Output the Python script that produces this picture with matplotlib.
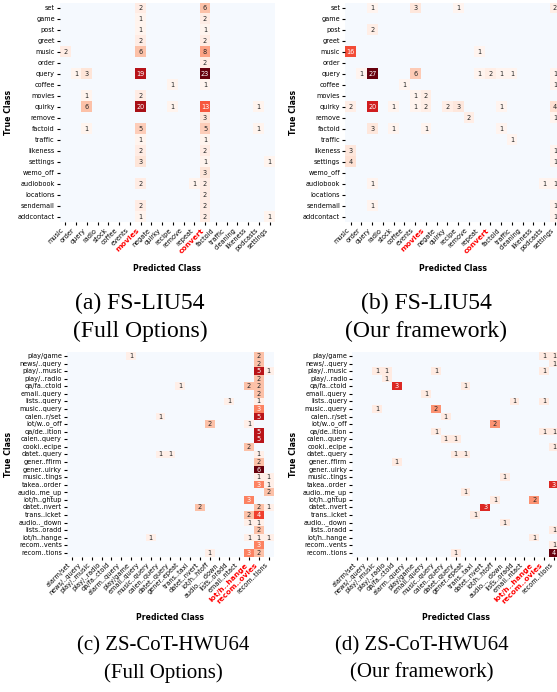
import matplotlib.pyplot as plt
import numpy as np
import seaborn as sns

# ---- FS-LIU54 (panels a, b) ----
liu_rows = ['set', 'game', 'post', 'greet', 'music', 'order', 'query', 'coffee', 'movies', 'quirky',
            'remove', 'factoid', 'traffic', 'likeness', 'settings', 'wemo_off', 'audiobook',
            'locations', 'sendemail', 'addcontact']
liu_cols = ['music', 'order', 'query', 'radio', 'stock', 'coffee', 'events', 'movies', 'negate',
            'quirky', 'recipe', 'remove', 'repeat', 'convert', 'factoid', 'traffic', 'cleaning',
            'likeness', 'podcasts', 'settings']
liu_red = ['movies', 'convert']

# (true class, predicted class, count)
liu_full = [
    ('set', 'movies', 2), ('set', 'convert', 6),
    ('game', 'movies', 1), ('game', 'convert', 2),
    ('post', 'movies', 1), ('post', 'convert', 1),
    ('greet', 'movies', 2), ('greet', 'convert', 2),
    ('music', 'music', 2), ('music', 'movies', 6), ('music', 'convert', 8),
    ('order', 'convert', 2),
    ('query', 'order', 1), ('query', 'query', 3), ('query', 'movies', 19), ('query', 'convert', 23),
    ('coffee', 'recipe', 1), ('coffee', 'convert', 1),
    ('movies', 'query', 1), ('movies', 'movies', 2),
    ('quirky', 'query', 6), ('quirky', 'movies', 20), ('quirky', 'recipe', 1),
    ('quirky', 'convert', 13), ('quirky', 'podcasts', 1),
    ('remove', 'convert', 3),
    ('factoid', 'query', 1), ('factoid', 'movies', 5), ('factoid', 'convert', 5),
    ('factoid', 'podcasts', 1),
    ('traffic', 'movies', 1), ('traffic', 'convert', 1),
    ('likeness', 'movies', 2), ('likeness', 'convert', 2),
    ('settings', 'movies', 3), ('settings', 'convert', 1), ('settings', 'settings', 1),
    ('wemo_off', 'convert', 3),
    ('audiobook', 'movies', 2), ('audiobook', 'repeat', 1), ('audiobook', 'convert', 2),
    ('locations', 'convert', 2),
    ('sendemail', 'movies', 2), ('sendemail', 'convert', 2),
    ('addcontact', 'movies', 1), ('addcontact', 'convert', 2), ('addcontact', 'settings', 1),
]

liu_ours = [
    ('set', 'query', 1), ('set', 'events', 3), ('set', 'recipe', 1), ('set', 'settings', 2),
    ('post', 'query', 2),
    ('music', 'music', 16), ('music', 'repeat', 1),
    ('query', 'order', 1), ('query', 'query', 27), ('query', 'events', 6), ('query', 'repeat', 1),
    ('query', 'convert', 2), ('query', 'factoid', 1), ('query', 'traffic', 1),
    ('query', 'settings', 1),
    ('coffee', 'coffee', 1), ('coffee', 'settings', 1),
    ('movies', 'events', 1), ('movies', 'movies', 2),
    ('quirky', 'music', 2), ('quirky', 'query', 20), ('quirky', 'stock', 1), ('quirky', 'events', 1),
    ('quirky', 'movies', 2), ('quirky', 'quirky', 2), ('quirky', 'recipe', 3),
    ('quirky', 'factoid', 1), ('quirky', 'settings', 4),
    ('remove', 'remove', 2), ('remove', 'settings', 1),
    ('factoid', 'query', 3), ('factoid', 'stock', 1), ('factoid', 'movies', 1),
    ('factoid', 'factoid', 1),
    ('traffic', 'traffic', 1),
    ('likeness', 'music', 3), ('likeness', 'settings', 1),
    ('settings', 'music', 4), ('settings', 'settings', 1),
    ('audiobook', 'query', 1), ('audiobook', 'podcasts', 1), ('audiobook', 'settings', 1),
    ('sendemail', 'query', 1), ('sendemail', 'settings', 1),
    ('addcontact', 'settings', 1),
]

# ---- ZS-CoT-HWU64 (panels c, d) ----
hwu_rows = ['play/game', 'news/..query', 'play/..music', 'play/..radio', 'qa/fa..ctoid',
            'email..query', 'lists..query', 'music..query', 'calen..r/set', 'iot/w..o_off',
            'qa/de..ition', 'calen..query', 'cooki..ecipe', 'datet..query', 'gener..ffirm',
            'gener..uirky', 'music..tings', 'takea..order', 'audio..me_up', 'iot/h..ghtup',
            'datet..nvert', 'trans..icket', 'audio.._down', 'lists..oradd', 'iot/h..hange',
            'recom..vents', 'recom..tions']
hwu_cols = ['alarm/set', 'news/..query', 'play/..music', 'play/..radio', 'qa/fa..ctoid',
            'alarm..query', 'play/game', 'email..query', 'music..query', 'calen..query',
            'datet..query', 'gener..epeat', 'trans..taxi', 'datet..nvert', 'iot/h..htoff',
            'audio..._down', 'lists..oradd', 'email..ntact', 'iot/h..hange', 'recom..ovies',
            'recom..tions']
hwu_red = ['iot/h..hange', 'recom..ovies']

hwu_full = [
    ('play/game', 'play/game', 1), ('play/game', 'recom..ovies', 2),
    ('news/..query', 'recom..ovies', 2),
    ('play/..music', 'recom..ovies', 5), ('play/..music', 'recom..tions', 1),
    ('play/..radio', 'recom..ovies', 2),
    ('qa/fa..ctoid', 'gener..epeat', 1), ('qa/fa..ctoid', 'iot/h..hange', 2),
    ('qa/fa..ctoid', 'recom..ovies', 2),
    ('email..query', 'recom..ovies', 2),
    ('lists..query', 'lists..oradd', 1), ('lists..query', 'recom..ovies', 1),
    ('music..query', 'recom..ovies', 3),
    ('calen..r/set', 'calen..query', 1), ('calen..r/set', 'recom..ovies', 5),
    ('iot/w..o_off', 'iot/h..htoff', 2), ('iot/w..o_off', 'iot/h..hange', 1),
    ('qa/de..ition', 'recom..ovies', 5),
    ('calen..query', 'recom..ovies', 5),
    ('cooki..ecipe', 'iot/h..hange', 2),
    ('datet..query', 'calen..query', 1), ('datet..query', 'datet..query', 1),
    ('datet..query', 'recom..ovies', 1),
    ('gener..ffirm', 'recom..ovies', 2),
    ('gener..uirky', 'recom..ovies', 6),
    ('music..tings', 'recom..ovies', 1), ('music..tings', 'recom..tions', 1),
    ('takea..order', 'recom..ovies', 3), ('takea..order', 'recom..tions', 1),
    ('audio..me_up', 'recom..tions', 2),
    ('iot/h..ghtup', 'iot/h..hange', 3),
    ('datet..nvert', 'datet..nvert', 2), ('datet..nvert', 'recom..ovies', 2),
    ('datet..nvert', 'recom..tions', 1),
    ('trans..icket', 'iot/h..hange', 2), ('trans..icket', 'recom..ovies', 4),
    ('audio.._down', 'iot/h..hange', 1), ('audio.._down', 'recom..ovies', 1),
    ('lists..oradd', 'recom..ovies', 2),
    ('iot/h..hange', 'music..query', 1), ('iot/h..hange', 'iot/h..hange', 1),
    ('iot/h..hange', 'recom..ovies', 1), ('iot/h..hange', 'recom..tions', 1),
    ('recom..vents', 'recom..ovies', 3),
    ('recom..tions', 'iot/h..htoff', 1), ('recom..tions', 'iot/h..hange', 3),
    ('recom..tions', 'recom..ovies', 2),
]

hwu_ours = [
    ('play/game', 'recom..ovies', 1), ('play/game', 'recom..tions', 1),
    ('news/..query', 'recom..tions', 1),
    ('play/..music', 'play/..music', 1), ('play/..music', 'play/..radio', 1),
    ('play/..music', 'music..query', 1), ('play/..music', 'recom..ovies', 1),
    ('play/..radio', 'play/..radio', 1),
    ('qa/fa..ctoid', 'qa/fa..ctoid', 3), ('qa/fa..ctoid', 'gener..epeat', 1),
    ('email..query', 'email..query', 1),
    ('lists..query', 'lists..oradd', 1), ('lists..query', 'recom..ovies', 1),
    ('music..query', 'play/..music', 1), ('music..query', 'music..query', 2),
    ('calen..r/set', 'calen..query', 1),
    ('iot/w..o_off', 'iot/h..htoff', 2),
    ('qa/de..ition', 'music..query', 1), ('qa/de..ition', 'recom..ovies', 1),
    ('qa/de..ition', 'recom..tions', 1),
    ('calen..query', 'calen..query', 1), ('calen..query', 'datet..query', 1),
    ('cooki..ecipe', 'recom..tions', 1),
    ('datet..query', 'datet..query', 1), ('datet..query', 'gener..epeat', 1),
    ('gener..ffirm', 'qa/fa..ctoid', 1),
    ('music..tings', 'audio..._down', 1),
    ('takea..order', 'recom..tions', 3),
    ('audio..me_up', 'gener..epeat', 1),
    ('iot/h..ghtup', 'iot/h..htoff', 1), ('iot/h..ghtup', 'iot/h..hange', 2),
    ('datet..nvert', 'datet..nvert', 3),
    ('trans..icket', 'trans..taxi', 1),
    ('audio.._down', 'audio..._down', 1),
    ('lists..oradd', 'recom..tions', 1),
    ('iot/h..hange', 'iot/h..hange', 1),
    ('recom..vents', 'recom..tions', 1),
    ('recom..tions', 'datet..query', 1), ('recom..tions', 'recom..tions', 4),
]

W, H = 557, 692
fig = plt.figure(figsize=(W / 100, H / 100), dpi=100)


def px_box(x0, y0, x1, y1):
    return [x0 / W, 1 - y1 / H, (x1 - x0) / W, (y1 - y0) / H]


def draw(box, counts, rows, cols, red, ylab_x, xlab_y):
    ax = fig.add_axes(px_box(*box))
    mat = np.zeros((len(rows), len(cols)))
    for t, p, n in counts:
        mat[rows.index(t), cols.index(p)] += n
    sns.heatmap(mat, ax=ax, mask=(mat == 0), cmap='Reds', vmin=0.8, vmax=mat.max(),
                annot=True, fmt='.0f', cbar=False, annot_kws={'fontsize': 4.7},
                xticklabels=cols, yticklabels=rows)
    ax.set_facecolor('#f5f9fe')
    ax.set_yticklabels(rows, rotation=0, fontsize=4.7)
    ax.set_xticklabels(cols, rotation=45, ha='right', fontsize=4.7)
    for lab in ax.get_xticklabels():
        if lab.get_text() in red:
            lab.set_color('red')
            lab.set_fontweight('bold')
            lab.set_fontsize(5.4)
    ax.tick_params(length=2.2, width=0.8, pad=1.5)
    ax.set_ylabel('True Class', fontsize=5.6, fontweight='bold')
    ax.set_xlabel('Predicted Class', fontsize=5.6, fontweight='bold')
    ax.yaxis.set_label_coords(ylab_x, 0.5)
    ax.xaxis.set_label_coords(0.5, xlab_y)
    return ax


draw((59.9, 2.5, 274.9, 222), liu_full, liu_rows, liu_cols, liu_red, -0.218, -0.19)
draw((345.3, 2.5, 560.3, 222), liu_ours, liu_rows, liu_cols, liu_red, -0.22, -0.19)
draw((67.1, 352.2, 273.5, 556.6), hwu_full, hwu_rows, hwu_cols, hwu_red, -0.264, -0.276)
draw((352.4, 352.2, 558.8, 556.6), hwu_ours, hwu_rows, hwu_cols, hwu_red, -0.264, -0.276)

# subfigure captions
captions = [
    (140, 303, '(a) FS-LIU54', 17), (140, 331, '(Full Options)', 17),
    (426, 303, '(b) FS-LIU54', 17), (426, 331, '(Our framework)', 17),
    (163, 646, '(c) ZS-CoT-HWU64', 15), (163, 673, '(Full Options)', 15),
    (422, 646, '(d) ZS-CoT-HWU64', 15), (422, 673, '(Our framework)', 15),
]
for x, y, txt, fs in captions:
    fig.text(x / W, 1 - y / H, txt, ha='center', va='center', fontsize=fs,
             family='Liberation Serif')

fig.savefig('out.png', dpi=100)
